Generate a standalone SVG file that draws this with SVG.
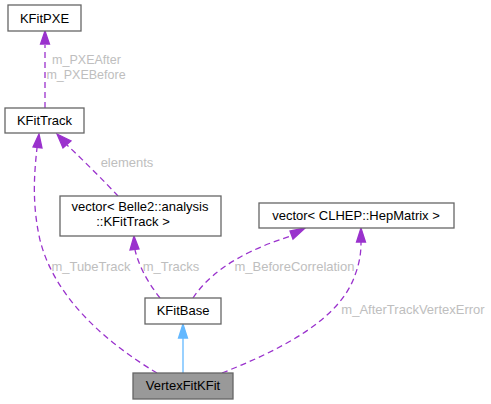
<svg xmlns="http://www.w3.org/2000/svg" width="491" height="404" viewBox="0 0 491 404">
<style>
.node rect{fill:#ffffff;stroke:#666666;stroke-width:1.3}
.node text{font-family:"Liberation Sans",Arial,sans-serif;font-size:13px;fill:#000000;text-anchor:middle}
.e{fill:none;stroke:#9a32cd;stroke-width:1.3;stroke-dasharray:6,4}
.ah{fill:#9a32cd;stroke:#9a32cd;stroke-width:1.3}
.lbl{font-family:"Liberation Sans",Arial,sans-serif;font-size:13px;fill:#bebebe;text-anchor:middle}
.lbl2{font-size:12.5px}
</style>
<rect width="491" height="404" fill="#ffffff"/>
<g id="connectors">
  <!-- KFitTrack -> KFitPXE -->
  <path class="e" d="M45,108 L45,45"/>
  <polygon class="ah" points="45,31 40.5,44 49.5,44"/>
  <text class="lbl lbl2" x="86.5" y="63.5">m_PXEAfter</text>
  <text class="lbl lbl2" x="86" y="78.5">m_PXEBefore</text>
  <!-- vector<Belle2> -> KFitTrack -->
  <path class="e" d="M118,196 C105,182 85,162 67,145"/>
  <polygon class="ah" points="57,134 63,148 71,141"/>
  <text class="lbl" x="127" y="167">elements</text>
  <!-- VertexFitKFit -> KFitTrack -->
  <path class="e" d="M157,373 C110,345 55,300 40,240 C32,205 34,175 37,148"/>
  <polygon class="ah" points="39,134 33,147 42,148"/>
  <text class="lbl" x="91" y="271">m_TubeTrack</text>
  <!-- KFitBase -> vector<Belle2> -->
  <path class="e" d="M160,298 C150,285 140,270 135,250"/>
  <polygon class="ah" points="134,236 130,250 139,249"/>
  <text class="lbl" x="171" y="271">m_Tracks</text>
  <!-- KFitBase -> vector<CLHEP> -->
  <path class="e" d="M193,298 C205,280 230,255 291,236"/>
  <polygon class="ah" points="305,228 290,231 293,239"/>
  <text class="lbl" x="294.5" y="271">m_BeforeCorrelation</text>
  <!-- VertexFitKFit -> vector<CLHEP> -->
  <path class="e" d="M222,373 C280,350 340,320 355,275 C360,262 361,252 361,242"/>
  <polygon class="ah" points="361,228 356.5,242 365.5,242"/>
  <text class="lbl" x="413" y="314">m_AfterTrackVertexError</text>
  <!-- VertexFitKFit -> KFitBase (inheritance) -->
  <path d="M183,373 L183,338" fill="none" stroke="#63b8ff" stroke-width="1.3"/>
  <polygon points="183,324 178.5,338 187.5,338" fill="#63b8ff" stroke="#63b8ff" stroke-width="1.3"/>
</g>
<g id="KFitPXE" class="node">
  <rect x="8" y="5" width="73" height="26"/>
  <text x="44.5" y="22.5">KFitPXE</text>
</g>
<g id="KFitTrack" class="node">
  <rect x="5" y="108" width="79" height="25"/>
  <text x="44.5" y="125">KFitTrack</text>
</g>
<g id="vectorBelle2" class="node">
  <rect x="60" y="196" width="161" height="40"/>
  <text x="140" y="211">vector&lt; Belle2::analysis</text>
  <text x="133" y="226">::KFitTrack &gt;</text>
</g>
<g id="vectorCLHEP" class="node">
  <rect x="259" y="203" width="195" height="25"/>
  <text x="356" y="220">vector&lt; CLHEP::HepMatrix &gt;</text>
</g>
<g id="KFitBase" class="node">
  <rect x="145" y="298" width="76" height="26"/>
  <text x="183" y="315">KFitBase</text>
</g>
<g id="VertexFitKFit" class="node">
  <rect x="133" y="373" width="100" height="26" style="fill:#999999"/>
  <text x="183" y="390">VertexFitKFit</text>
</g>
</svg>
